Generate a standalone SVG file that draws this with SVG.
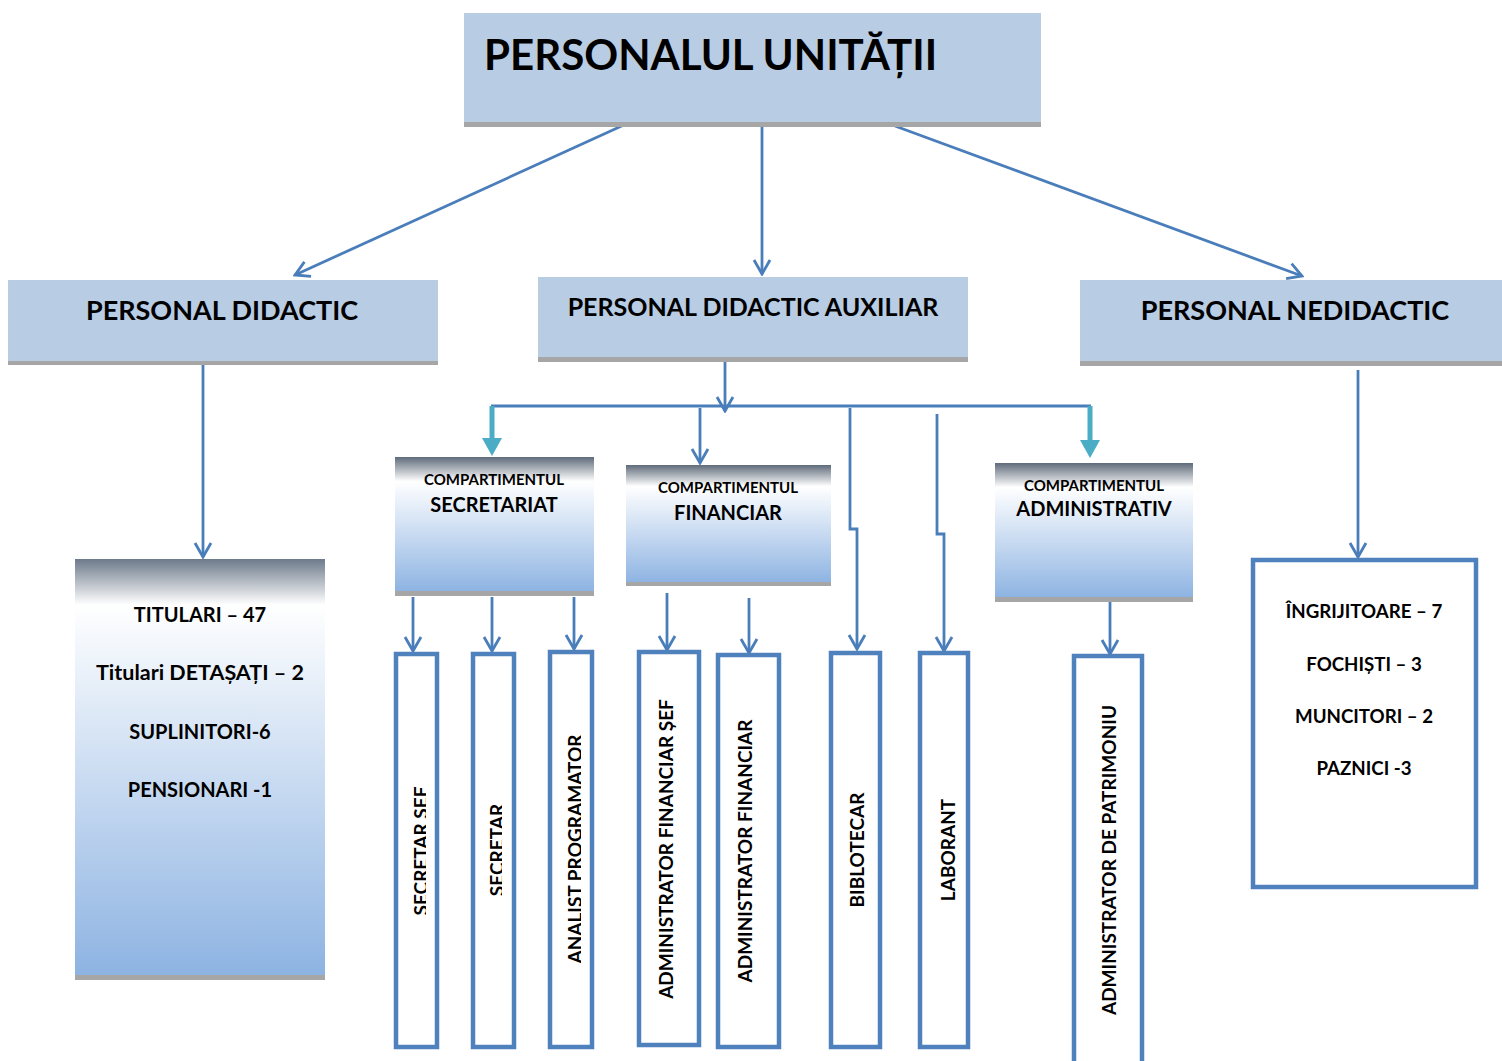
<svg xmlns="http://www.w3.org/2000/svg" width="1502" height="1061" viewBox="0 0 1502 1061">
<style>
text{font-family:Lato,"Liberation Sans",sans-serif;font-weight:bold;fill:#000}
.hdr{fill:#b8cce4}
.band{fill:#a6a6a6}
.conn{stroke:#4a7ebb;stroke-width:2.8;fill:none}
.teal{stroke:#4bacc6;stroke-width:5;fill:none}
.job{fill:#fff;stroke:#4f81bd;stroke-width:4.5}
.v{font-size:19px;text-anchor:middle}
.c1{font-size:15px;text-anchor:middle}
.c2{font-size:20px;text-anchor:middle}
.l{font-size:20px;text-anchor:middle}
.n{font-size:18.7px;text-anchor:middle}
</style>
<defs>
<marker id="open" markerUnits="userSpaceOnUse" viewBox="0 0 20 20" markerWidth="20" markerHeight="20" refX="18" refY="10" orient="auto">
<path d="M4,2 L18,10 L4,18" fill="none" stroke="#4a7ebb" stroke-width="2.8"/>
</marker>
<linearGradient id="gcomp" x1="0" y1="0" x2="0" y2="1">
<stop offset="0" stop-color="#5f6b7a"/>
<stop offset="0.18" stop-color="#ffffff"/>
<stop offset="1" stop-color="#8db3e2"/>
</linearGradient>
<linearGradient id="gtit" x1="0" y1="0" x2="0" y2="1">
<stop offset="0" stop-color="#6d7a8a"/>
<stop offset="0.11" stop-color="#ffffff"/>
<stop offset="1" stop-color="#8db3e2"/>
</linearGradient>
<clipPath id="clipSS"><rect x="380" y="640" width="46" height="420"/></clipPath>
<clipPath id="clipS"><rect x="460" y="640" width="42" height="420"/></clipPath>
<clipPath id="clipA"><rect x="540" y="640" width="41" height="420"/></clipPath>
</defs>

<g id="connectors">
<line class="conn" x1="626" y1="124" x2="295" y2="275" marker-end="url(#open)"/>
<line class="conn" x1="762" y1="124" x2="762" y2="274" marker-end="url(#open)"/>
<line class="conn" x1="895" y1="126" x2="1302" y2="276" marker-end="url(#open)"/>
<line class="conn" x1="203" y1="362" x2="203" y2="557" marker-end="url(#open)"/>
<line class="conn" x1="1358" y1="370" x2="1358" y2="557" marker-end="url(#open)"/>
<line class="conn" x1="725" y1="359" x2="725" y2="411" marker-end="url(#open)"/>
<line class="conn" x1="491" y1="406" x2="1091" y2="406"/>
<line class="teal" x1="492" y1="406" x2="492" y2="440"/>
<path d="M482,438 L502,438 L492,456 Z" fill="#4bacc6"/>
<line class="teal" x1="1090" y1="406" x2="1090" y2="442"/>
<path d="M1080,440 L1100,440 L1090,458 Z" fill="#4bacc6"/>
<line class="conn" x1="700" y1="408" x2="700" y2="463" marker-end="url(#open)"/>
<path class="conn" d="M850,408 L850,529 L857,529 L857,649" marker-end="url(#open)"/>
<path class="conn" d="M937,414 L937,534 L944,534 L944,651" marker-end="url(#open)"/>
<line class="conn" x1="413" y1="597" x2="413" y2="651" marker-end="url(#open)"/>
<line class="conn" x1="492" y1="597" x2="492" y2="651" marker-end="url(#open)"/>
<line class="conn" x1="574" y1="597" x2="574" y2="649" marker-end="url(#open)"/>
<line class="conn" x1="667" y1="593" x2="667" y2="650" marker-end="url(#open)"/>
<line class="conn" x1="749" y1="598" x2="749" y2="653" marker-end="url(#open)"/>
<line class="conn" x1="1110" y1="600" x2="1110" y2="654" marker-end="url(#open)"/>
</g>

<g id="n-top">
<rect class="hdr" x="464" y="13" width="577" height="110"/>
<rect class="band" x="464" y="122" width="577" height="5"/>
<text x="484" y="70" font-size="42">PERSONALUL UNITĂȚII</text>
</g>

<g id="n-didactic">
<rect class="hdr" x="8" y="280" width="430" height="82"/>
<rect class="band" x="8" y="361" width="430" height="4"/>
<text x="222" y="320" font-size="27" text-anchor="middle">PERSONAL DIDACTIC</text>
</g>

<g id="n-auxiliar">
<rect class="hdr" x="538" y="277" width="430" height="81"/>
<rect class="band" x="538" y="357" width="430" height="5"/>
<text x="753" y="316" font-size="25" text-anchor="middle">PERSONAL DIDACTIC AUXILIAR</text>
</g>

<g id="n-nedidactic">
<rect class="hdr" x="1080" y="280" width="422" height="82"/>
<rect class="band" x="1080" y="361" width="422" height="5"/>
<text x="1295" y="320" font-size="27" text-anchor="middle">PERSONAL NEDIDACTIC</text>
</g>

<g id="n-titulari">
<rect x="75" y="559" width="250" height="417" fill="url(#gtit)"/>
<rect class="band" x="75" y="975" width="250" height="5"/>
<text class="l" x="200" y="622">TITULARI – 47</text>
<text class="l" x="200" y="680" style="font-size:21.5px">Titulari DETAȘAȚI – 2</text>
<text class="l" x="200" y="739">SUPLINITORI-6</text>
<text class="l" x="200" y="797">PENSIONARI -1</text>
</g>

<g id="n-secretariat">
<rect x="395" y="457" width="199" height="135" fill="url(#gcomp)"/>
<rect class="band" x="395" y="591" width="199" height="5"/>
<text class="c1" x="494" y="485">COMPARTIMENTUL</text>
<text class="c2" x="494" y="512">SECRETARIAT</text>
</g>

<g id="n-financiar">
<rect x="626" y="465" width="205" height="118" fill="url(#gcomp)"/>
<rect class="band" x="626" y="582" width="205" height="4"/>
<text class="c1" x="728" y="493">COMPARTIMENTUL</text>
<text class="c2" x="728" y="520">FINANCIAR</text>
</g>

<g id="n-administrativ">
<rect x="995" y="463" width="198" height="135" fill="url(#gcomp)"/>
<rect class="band" x="995" y="597" width="198" height="5"/>
<text class="c1" x="1094" y="491">COMPARTIMENTUL</text>
<text class="c2" x="1094" y="516">ADMINISTRATIV</text>
</g>

<g id="n-secretar-sef">
<rect class="job" x="396" y="654" width="41" height="393"/>
<g clip-path="url(#clipSS)"><text class="v" transform="translate(428,851) rotate(-90)">SECRETAR ȘEF</text></g>
</g>
<g id="n-secretar">
<rect class="job" x="473" y="654" width="41" height="393"/>
<g clip-path="url(#clipS)"><text class="v" transform="translate(504,850) rotate(-90)">SECRETAR</text></g>
</g>
<g id="n-analist">
<rect class="job" x="550" y="652" width="42" height="395"/>
<g clip-path="url(#clipA)"><text class="v" transform="translate(582,849) rotate(-90)">ANALIST PROGRAMATOR</text></g>
</g>
<g id="n-admfinsef">
<rect class="job" x="639" y="652" width="60" height="393"/>
<text class="v" transform="translate(673,849) rotate(-90)">ADMINISTRATOR FINANCIAR ȘEF</text>
</g>
<g id="n-admfin">
<rect class="job" x="718" y="655" width="61" height="392"/>
<text class="v" transform="translate(752,851) rotate(-90)">ADMINISTRATOR FINANCIAR</text>
</g>
<g id="n-bibliotecar">
<rect class="job" x="831" y="653" width="49" height="394"/>
<text class="v" transform="translate(864,850) rotate(-90)">BIBLOTECAR</text>
</g>
<g id="n-laborant">
<rect class="job" x="920" y="653" width="48" height="394"/>
<text class="v" transform="translate(955,850) rotate(-90)">LABORANT</text>
</g>
<g id="n-patrimoniu">
<rect class="job" x="1074" y="656" width="68" height="410"/>
<text class="v" transform="translate(1116,860) rotate(-90)">ADMINISTRATOR DE PATRIMONIU</text>
</g>

<g id="n-nedidactic-list">
<rect class="job" x="1253" y="560" width="223" height="327"/>
<text class="n" x="1364" y="618">ÎNGRIJITOARE – 7</text>
<text class="n" x="1364" y="671">FOCHIȘTI – 3</text>
<text class="n" x="1364" y="723">MUNCITORI – 2</text>
<text class="n" x="1364" y="775">PAZNICI -3</text>
</g>
</svg>
